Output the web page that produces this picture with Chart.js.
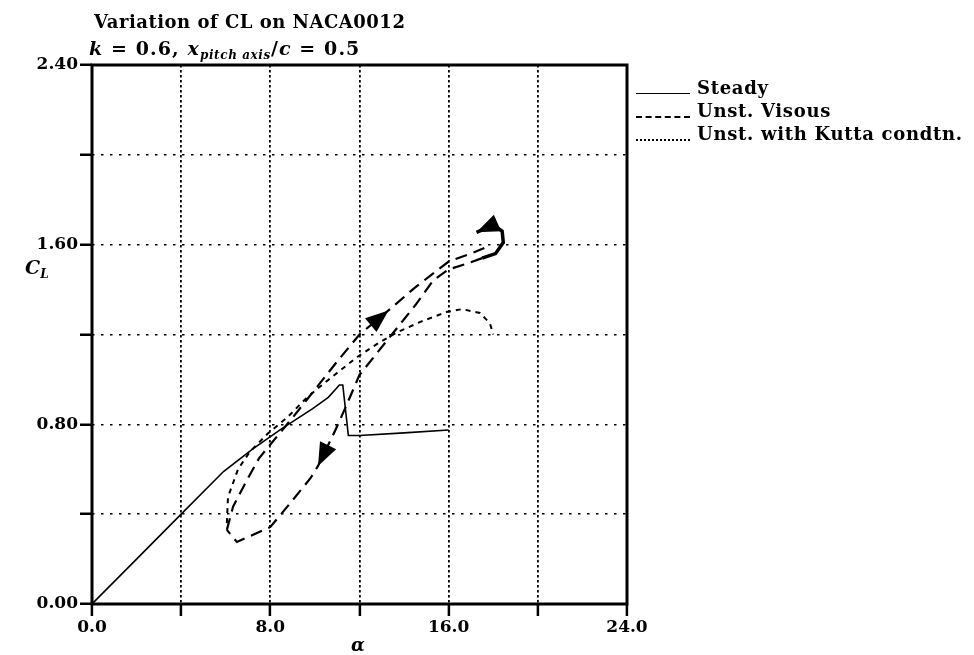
<!DOCTYPE html>
<html>
<head>
<meta charset="utf-8">
<script src="https://cdn.jsdelivr.net/npm/chart.js@4.4.0/dist/chart.umd.min.js"></script>
<style>
    html, body { margin: 0; padding: 0; background: #fff; }
    #wrap {
        position: relative;
        width: 974px;
        height: 655px;
        font-family: "DejaVu Serif", serif;
        font-weight: bold;
        color: #000;
    }
    #wrap canvas { position: absolute; left: 0; top: 0; }
    .txt { position: absolute; white-space: nowrap; line-height: 1; }
    .title { left: 94px; top: 13px; font-size: 18px; letter-spacing: 0.5px; }
    .sub { left: 89px; top: 39px; font-size: 19px; letter-spacing: 1.1px; }
    .sub sub { font-size: 12px; vertical-align: -4px; letter-spacing: 0.6px; }
    .leg { left: 697px; font-size: 18px; letter-spacing: 0.7px; }
    .sample { position: absolute; left: 636px; width: 54px; height: 0; }
    .axis-y { left: 25px; top: 258px; font-size: 19px; font-style: italic; }
    .axis-y sub { font-size: 12px; vertical-align: -4px; }
    .axis-x { left: 351px; top: 636px; font-size: 18px; font-style: italic; }
</style>
</head>
<body>
<div id="wrap">
    <canvas id="clChart" width="974" height="655"></canvas>
    <div class="txt title">Variation of CL on NACA0012</div>
    <div class="txt sub"><i>k</i> = 0.6, <i>x</i><sub><i>pitch axis</i></sub>/<i>c</i> = 0.5</div>

    <div class="sample" style="top:93px; border-top:1.5px solid #000;"></div>
    <div class="txt leg" style="top:79px;">Steady</div>
    <div class="sample" style="top:116px; border-top:2px dashed #000;"></div>
    <div class="txt leg" style="top:102px;">Unst. Visous</div>
    <div class="sample" style="top:139px; border-top:2px dotted #000;"></div>
    <div class="txt leg" style="top:125px;">Unst. with Kutta condtn.</div>

    <div class="txt axis-y">C<sub>L</sub></div>
    <div class="txt axis-x">α</div>
</div>

<script>
// ---- data ----
const steadyAlpha = [0, 2, 4, 5.9, 7.2, 8.5, 9.9, 10.6, 11.1, 11.25, 11.5, 12.0, 14.0, 16.0];
const steadyCL    = [0, 0.2, 0.4, 0.59, 0.69, 0.78, 0.87, 0.92, 0.975, 0.975, 0.75, 0.75, 0.762, 0.775];

// upstroke | curl at max alpha (ends in an arrow) | downstroke back to the start
const viscousAlpha = [6.05, 6.33, 6.95, 7.5, 8.0, 9.0, 10.0, 11.0, 12.0, 13.3, 14.5, 16.0, 17.0, 17.6,
                      null,
                      17.5, 18.1, 18.45, 18.4, 18.05, 17.7, 17.25,
                      null,
                      17.5, 16.8, 16.0, 15.3, 14.5, 13.45, 12.0, 11.35, 10.9, 10.14, 9.8, 8.9, 8.0, 6.5, 6.05];
const viscousCL    = [0.33, 0.434, 0.552, 0.65, 0.71, 0.83, 0.955, 1.08, 1.20, 1.307, 1.41, 1.525, 1.56, 1.585,
                      null,
                      1.54, 1.56, 1.61, 1.66, 1.685, 1.675, 1.655,
                      null,
                      1.54, 1.515, 1.49, 1.44, 1.33, 1.20, 1.02, 0.87, 0.77, 0.615, 0.56, 0.45, 0.343, 0.276, 0.33];
const viscousArrows = [9, 21, 32];   // indices of arrow tips
const viscousCurl = [15, 21];        // segment range drawn solid

const kuttaAlpha = [6.05, 6.1, 6.55, 7.1, 7.9, 8.75, 9.65, 10.5, 11.9, 12.9, 13.7, 14.7, 15.9, 16.6, 17.4, 17.85, 18.0];
const kuttaCL    = [0.36, 0.476, 0.60, 0.68, 0.76, 0.83, 0.92, 0.99, 1.10, 1.165, 1.21, 1.255, 1.30, 1.313, 1.296, 1.25, 1.20];

const xTickValues = [0, 4, 8, 12, 16, 20, 24];
const xTickLabels = ['0.0', '', '8.0', '', '16.0', '', '24.0'];
const yTickValues = [0, 0.4, 0.8, 1.2, 1.6, 2.0, 2.4];
const yTickLabels = ['0.00', '', '0.80', '', '1.60', '', '2.40'];

const toPoints = (xs, ys) => xs.map((v, i) => ({ x: v, y: ys[i] }));

// arrow heads + heavy frame around the plot
const framePlugin = {
    id: 'framePlugin',
    afterDatasetsDraw(chart) {
        const { ctx, scales: { x, y } } = chart;
        ctx.save();
        ctx.fillStyle = '#000';
        viscousArrows.forEach(i => {
            const tx = x.getPixelForValue(viscousAlpha[i]);
            const ty = y.getPixelForValue(viscousCL[i]);
            const px = x.getPixelForValue(viscousAlpha[i - 1]);
            const py = y.getPixelForValue(viscousCL[i - 1]);
            const ang = Math.atan2(ty - py, tx - px);
            const len = 23, half = 9;
            const bx = tx - len * Math.cos(ang), by = ty - len * Math.sin(ang);
            ctx.beginPath();
            ctx.moveTo(tx, ty);
            ctx.lineTo(bx + half * Math.sin(ang), by - half * Math.cos(ang));
            ctx.lineTo(bx - half * Math.sin(ang), by + half * Math.cos(ang));
            ctx.closePath();
            ctx.fill();
        });
        ctx.restore();
    },
    afterDraw(chart) {
        const { ctx, chartArea: a } = chart;
        ctx.save();
        ctx.strokeStyle = '#000';
        ctx.lineWidth = 3;
        ctx.strokeRect(a.left, a.top, a.right - a.left, a.bottom - a.top);
        ctx.restore();
    }
};

const tickFont = { family: 'DejaVu Serif', weight: 'bold', size: 17 };
const inCurl = c => c.p0DataIndex >= viscousCurl[0] && c.p0DataIndex < viscousCurl[1];

new Chart(document.getElementById('clChart'), {
    type: 'scatter',
    data: {
        datasets: [
            {
                label: 'Steady',
                data: toPoints(steadyAlpha, steadyCL),
                showLine: true,
                borderColor: '#000',
                borderWidth: 1.6,
                pointRadius: 0
            },
            {
                label: 'Unst. Visous',
                data: toPoints(viscousAlpha, viscousCL),
                showLine: true,
                spanGaps: false,
                borderColor: '#000',
                borderWidth: 2.2,
                borderDash: [12, 7],
                pointRadius: 0,
                segment: {
                    borderDash: c => inCurl(c) ? [] : undefined,
                    borderWidth: c => inCurl(c) ? 3.5 : undefined
                }
            },
            {
                label: 'Unst. with Kutta condtn.',
                data: toPoints(kuttaAlpha, kuttaCL),
                showLine: true,
                borderColor: '#000',
                borderWidth: 2,
                borderDash: [5, 5],
                pointRadius: 0
            }
        ]
    },
    options: {
        responsive: false,
        animation: false,
        layout: { padding: { top: 65, right: 347, left: 0, bottom: 0 } },
        plugins: {
            legend: { display: false },
            title: { display: false },
            tooltip: { enabled: false }
        },
        scales: {
            x: {
                type: 'linear',
                min: 0,
                max: 24,
                afterBuildTicks: s => { s.ticks = xTickValues.map(v => ({ value: v })); },
                afterFit: s => { s.height = 51; },
                ticks: {
                    autoSkip: false,
                    maxRotation: 0,
                    padding: 1,
                    color: '#000',
                    font: tickFont,
                    callback: (v, i) => xTickLabels[i]
                },
                grid: {
                    color: '#000',
                    lineWidth: 1.8,
                    tickLength: 12,
                    tickWidth: 2.5,
                    tickColor: '#000',
                    tickBorderDash: []
                },
                border: { display: false, dash: [2.5, 2.5] }
            },
            y: {
                type: 'linear',
                min: 0,
                max: 2.4,
                afterBuildTicks: s => { s.ticks = yTickValues.map(v => ({ value: v })); },
                afterFit: s => { s.width = 92; },
                ticks: {
                    autoSkip: false,
                    padding: 2,
                    color: '#000',
                    font: tickFont,
                    callback: (v, i) => yTickLabels[i]
                },
                grid: {
                    color: '#000',
                    lineWidth: 1.5,
                    tickLength: 12,
                    tickWidth: 2.5,
                    tickColor: '#000',
                    tickBorderDash: []
                },
                border: { display: false, dash: [2.5, 6.5] }
            }
        }
    },
    plugins: [framePlugin]
});
</script>
</body>
</html>
